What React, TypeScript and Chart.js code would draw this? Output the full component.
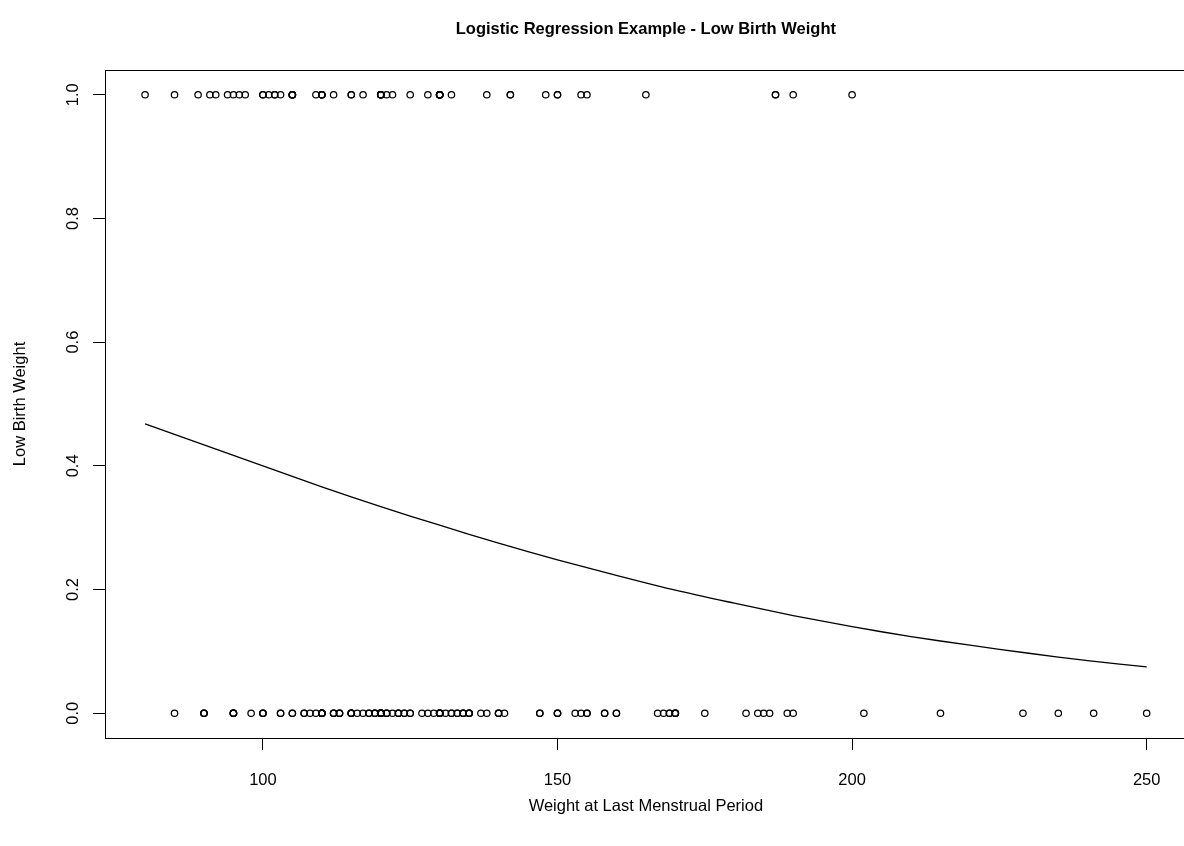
import React, { useEffect, useRef } from "react";
import { Chart, registerables } from "chart.js";

Chart.register(...registerables);

// Weight at last menstrual period (lbs) for low birth weight babies (low = 1)
const lowWeightLwt = [
  120, 130, 187, 105, 85, 150, 97, 128, 132, 165,
  105, 91, 115, 130, 92, 150, 200, 155, 103, 125,
  89, 102, 112, 117, 138, 130, 120, 130, 130, 80,
  110, 105, 109, 148, 110, 121, 100, 96, 102, 110,
  187, 122, 105, 115, 120, 142, 130, 120, 110, 120,
  154, 105, 190, 101, 95, 100, 94, 142, 130,
];

// Weight at last menstrual period (lbs) for normal birth weight babies (low = 0)
const normalWeightLwt = [
  182, 155, 105, 108, 107, 124, 118, 103, 123, 113,
  95, 150, 95, 107, 100, 100, 98, 118, 120, 120,
  121, 100, 202, 120, 120, 167, 122, 150, 168, 113,
  113, 90, 121, 155, 125, 140, 138, 124, 215, 109,
  185, 189, 130, 160, 90, 90, 132, 132, 115, 85,
  120, 128, 130, 95, 115, 110, 110, 153, 103, 119,
  119, 119, 110, 140, 133, 169, 115, 250, 141, 158,
  112, 150, 115, 112, 135, 229, 140, 134, 121, 190,
  131, 170, 110, 127, 123, 120, 105, 130, 175, 125,
  133, 134, 235, 95, 135, 135, 154, 147, 147, 137,
  110, 184, 110, 120, 241, 112, 169, 120, 170, 186,
  120, 130, 117, 170, 134, 135, 130, 120, 95, 158,
  160, 115, 129, 130, 120, 170, 120, 116, 123,
];

// Fitted probability curve
const fitWeights = [80, 90, 100, 110, 120, 130, 140, 150, 160, 170, 180, 190, 200, 210, 220, 230, 240, 250];
const fitProbabilities = [0.468, 0.434, 0.4, 0.366, 0.334, 0.304, 0.275, 0.248, 0.223, 0.199, 0.178, 0.158, 0.14, 0.124, 0.11, 0.097, 0.085, 0.075];

const xTicks = [100, 150, 200, 250];
const xTickLabels = ["100", "150", "200", "250"];
const yTicks = [0, 0.2, 0.4, 0.6, 0.8, 1.0];
const yTickLabels = ["0.0", "0.2", "0.4", "0.6", "0.8", "1.0"];

const chartTitle = "Logistic Regression Example - Low Birth Weight";
const xTitle = "Weight at Last Menstrual Period";
const yTitle = "Low Birth Weight";

const FONT = "'Liberation Sans', Arial, Helvetica, sans-serif";

const boxPlugin = {
  id: "plotBox",
  afterDraw(chart: any) {
    const { ctx, chartArea } = chart;
    ctx.save();
    ctx.strokeStyle = "#000";
    ctx.lineWidth = 1;
    ctx.strokeRect(
      Math.round(chartArea.left) + 0.5,
      Math.round(chartArea.top) + 0.5,
      Math.round(chartArea.right - chartArea.left),
      Math.round(chartArea.bottom - chartArea.top)
    );
    ctx.restore();
  },
};

export default function App() {
  const canvasRef = useRef<HTMLCanvasElement | null>(null);

  useEffect(() => {
    const canvas = canvasRef.current;
    if (!canvas) return;

    const pointStyleOpts = {
      pointStyle: "circle",
      pointRadius: 3.2,
      pointBorderWidth: 1.25,
      pointBorderColor: "#000",
      pointBackgroundColor: "rgba(0,0,0,0)",
      showLine: false,
    };

    const chart = new Chart(canvas, {
      type: "scatter",
      data: {
        datasets: [
          {
            label: "low = 1",
            data: lowWeightLwt.map((w) => ({ x: w, y: 1 })),
            ...pointStyleOpts,
          },
          {
            label: "low = 0",
            data: normalWeightLwt.map((w) => ({ x: w, y: 0 })),
            ...pointStyleOpts,
          },
          {
            label: "fitted",
            data: fitWeights.map((w, i) => ({ x: w, y: fitProbabilities[i] })),
            showLine: true,
            borderColor: "#000",
            borderWidth: 1.3,
            pointRadius: 0,
            tension: 0.3,
            fill: false,
          },
        ],
      },
      options: {
        animation: false,
        responsive: false,
        maintainAspectRatio: false,
        devicePixelRatio: 1,
        layout: { padding: 0 },
        plugins: {
          legend: { display: false },
          tooltip: { enabled: false },
          title: {
            display: true,
            text: chartTitle,
            fullSize: false,
            color: "#000",
            font: { family: FONT, size: 16.5, weight: "bold", lineHeight: 1.2 },
            padding: { top: 20, bottom: 30.2 },
          },
        },
        scales: {
          x: {
            type: "linear",
            min: 73.2,
            max: 256.8,
            afterBuildTicks: (s: any) => {
              s.ticks = xTicks.map((v) => ({ value: v }));
            },
            afterFit: (s: any) => {
              s.height = 108;
            },
            grid: { drawOnChartArea: false, drawTicks: true, tickLength: 12, color: "#000", lineWidth: 1 },
            border: { display: true, color: "#000", width: 1 },
            ticks: {
              color: "#000",
              font: { family: FONT, size: 16.5, lineHeight: 1.2 },
              padding: 21,
              maxRotation: 0,
              minRotation: 0,
              autoSkip: false,
              callback: (_v: any, i: number) => xTickLabels[i],
            },
            title: {
              display: true,
              text: xTitle,
              color: "#000",
              font: { family: FONT, size: 16.5, lineHeight: 1.2 },
              padding: { top: 0, bottom: 30 },
            },
          },
          y: {
            type: "linear",
            min: -0.04,
            max: 1.04,
            afterBuildTicks: (s: any) => {
              s.ticks = yTicks.map((v) => ({ value: v }));
            },
            afterFit: (s: any) => {
              s.width = 105;
            },
            grid: { drawOnChartArea: false, drawTicks: true, tickLength: 12, color: "#000", lineWidth: 1 },
            border: { display: true, color: "#000", width: 1 },
            ticks: {
              color: "#000",
              font: { family: FONT, size: 16.5, lineHeight: 1.2 },
              padding: 8,
              minRotation: 90,
              maxRotation: 90,
              crossAlign: "center",
              autoSkip: false,
              callback: (_v: any, i: number) => yTickLabels[i],
            },
            title: {
              display: true,
              text: yTitle,
              color: "#000",
              font: { family: FONT, size: 16.5, lineHeight: 1.2 },
              padding: { top: 11, bottom: 0 },
            },
          },
        },
      },
      plugins: [boxPlugin],
    } as any);

    return () => {
      chart.destroy();
    };
  }, []);

  return (
    <div
      style={{
        position: "absolute",
        left: 0,
        top: 0,
        width: 1184,
        height: 846,
        overflow: "hidden",
        background: "#fff",
      }}
    >
      <canvas ref={canvasRef} width={1192} height={846} style={{ width: 1192, height: 846, display: "block" }} />
    </div>
  );
}
